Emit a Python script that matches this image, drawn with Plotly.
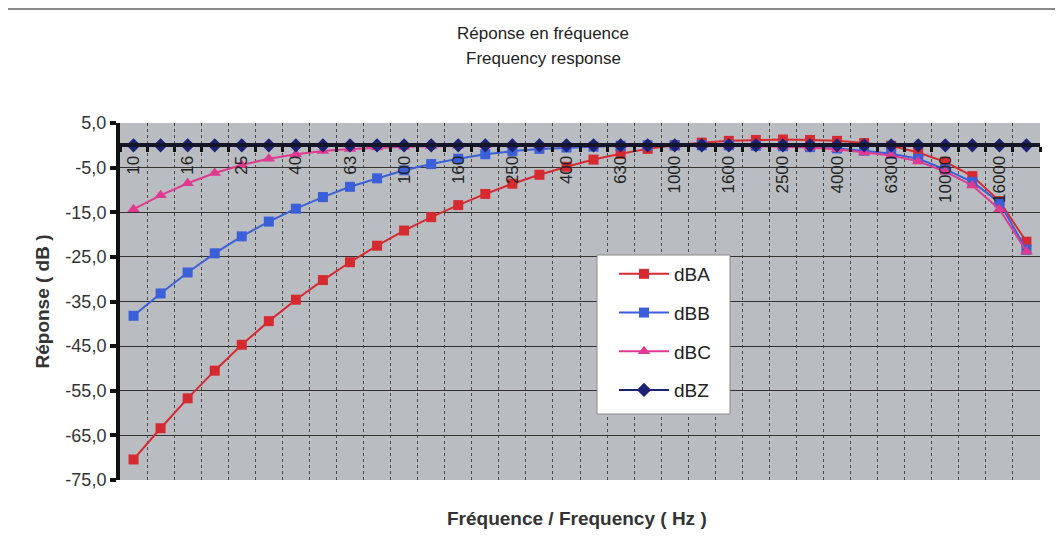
import plotly.graph_objects as go

freq_labels = ["10", "12.5", "16", "20", "25", "31.5", "40", "50", "63", "80",
               "100", "125", "160", "200", "250", "315", "400", "500", "630", "800",
               "1000", "1250", "1600", "2000", "2500", "3150", "4000", "5000", "6300", "8000",
               "10000", "12500", "16000", "20000"]

dBA = [-70.4, -63.4, -56.7, -50.5, -44.7, -39.4, -34.6, -30.2, -26.2, -22.5,
       -19.1, -16.1, -13.4, -10.9, -8.6, -6.6, -4.8, -3.2, -1.9, -0.8,
       0.0, 0.6, 1.0, 1.2, 1.3, 1.2, 1.0, 0.5, -0.1, -1.6,
       -3.7, -6.9, -12.5, -21.6]
dBB = [-38.2, -33.2, -28.5, -24.2, -20.4, -17.1, -14.2, -11.6, -9.3, -7.4,
       -5.6, -4.2, -3.0, -2.0, -1.3, -0.8, -0.5, -0.3, -0.1, 0.0,
       0.0, 0.0, 0.0, -0.1, -0.2, -0.4, -0.7, -1.2, -1.9, -3.0,
       -5.4, -8.2, -12.8, -23.4]
dBC = [-14.3, -11.2, -8.5, -6.2, -4.4, -3.0, -2.0, -1.3, -0.8, -0.5,
       -0.3, -0.2, -0.1, 0.0, 0.0, 0.0, 0.0, 0.0, 0.0, 0.0,
       0.0, 0.0, -0.1, -0.2, -0.3, -0.5, -0.9, -1.6, -2.3, -3.6,
       -5.9, -9.0, -14.3, -23.8]
dBZ = [0.0] * 34

y_ticks = [5, -5, -15, -25, -35, -45, -55, -65, -75]
y_ticktext = ["5,0", "-5,0", "-15,0", "-25,0", "-35,0", "-45,0", "-55,0", "-65,0", "-75,0"]

idx = list(range(len(freq_labels)))
label_idx = idx[::2]
label_txt = freq_labels[::2]

series = [
    ("dBA", dBA, "#d62a31", "square", 10),
    ("dBB", dBB, "#3b5fd8", "square", 10),
    ("dBC", dBC, "#e03a90", "triangle-up", 11),
    ("dBZ", dBZ, "#1b2173", "diamond", 11),
]

fig = go.Figure()
for name, vals, col, sym, sz in series:
    fig.add_trace(go.Scatter(
        x=idx, y=vals, name=name, mode="lines+markers",
        line=dict(color=col, width=2),
        marker=dict(symbol=sym, size=sz, color=col),
        legendgroup=name,
    ))

# the page body adds an 8px offset; figure is sized/placed to compensate
W, H = 1055, 542
L, T = 112, 115
PW, PH = 920, 357
B = H - T - PH
R = W - L - PW

def px_x(x):
    return (x - 8 - L) / PW

def px_y(y):
    return (T + PH - (y - 8)) / PH

font_family = "Liberation Sans, Arial, sans-serif"
zero_pos = (0 - (-75)) / (5 - (-75))

fig.update_layout(
    width=W, height=H,
    margin=dict(l=L, r=R, t=T, b=B),
    paper_bgcolor="white",
    plot_bgcolor="#b9bdc1",
    font=dict(family=font_family, color="#222"),
    title=dict(text="Réponse en fréquence", x=(543 - 8) / W, xanchor="center",
               y=1 - (33 - 8) / H, yanchor="middle",
               font=dict(size=17, color="#222")),
    annotations=[
        dict(text="Frequency response", xref="paper", yref="paper",
             x=px_x(543), y=px_y(59), xanchor="center", yanchor="middle",
             showarrow=False, font=dict(size=17, color="#222")),
        dict(text="<b>Fréquence / Frequency ( Hz )</b>", xref="paper", yref="paper",
             x=px_x(577), y=px_y(518), xanchor="center", yanchor="middle",
             showarrow=False, font=dict(size=19, color="#333")),
    ],
    showlegend=True,
    legend=dict(
        x=px_x(598), y=px_y(255), xanchor="left", yanchor="top",
        bgcolor="rgba(0,0,0,0)", borderwidth=0,
        font=dict(size=19, color="#222"),
        tracegroupgap=11, itemwidth=50, indentation=16,
    ),
    xaxis=dict(
        range=[-0.5, 33.5], tick0=-0.5, dtick=1,
        anchor="free", position=zero_pos,
        showticklabels=False,
        ticks="outside", ticklen=5, tickwidth=3, tickcolor="#111",
        showline=True, linewidth=4, linecolor="#15152a",
        showgrid=True, gridcolor="#4a4a4a", gridwidth=1, griddash="dot",
        zeroline=False,
    ),
    xaxis2=dict(
        overlaying="x", range=[-0.5, 33.5],
        anchor="free", position=zero_pos, side="bottom",
        tickmode="array", tickvals=label_idx, ticktext=label_txt,
        tickangle=-90, tickfont=dict(size=17, color="#222"),
        ticks="", showgrid=False, showline=False, zeroline=False,
        ticklabelstandoff=6,
    ),
    yaxis=dict(
        range=[-75, 5],
        tickmode="array", tickvals=y_ticks, ticktext=y_ticktext,
        tickfont=dict(size=18, color="#333"),
        ticks="outside", ticklen=6, tickwidth=4, tickcolor="#111",
        showline=True, linewidth=4, linecolor="#111",
        showgrid=True, gridcolor="#333", gridwidth=1.2,
        zeroline=False,
        title=dict(text="<b>Réponse ( dB )</b>", font=dict(size=19, color="#333"), standoff=12),
    ),
    shapes=[
        dict(type="line", xref="paper", yref="paper",
             x0=px_x(0), x1=px_x(1063),
             y0=1 + (T - 1) / PH, y1=1 + (T - 1) / PH,
             line=dict(color="#8a8a8a", width=2)),
        # legend frame
        dict(type="rect", xref="paper", yref="paper", layer="above",
             x0=px_x(597), x1=px_x(730), y0=px_y(414), y1=px_y(255),
             fillcolor="white", line=dict(color="#888", width=1)),
    ],
)

# carrier trace so the label axis (x2) is drawn
fig.add_trace(go.Scatter(x=[idx[0]], y=[None], xaxis="x2", showlegend=False, hoverinfo="skip"))

fig.write_html("out.html")
